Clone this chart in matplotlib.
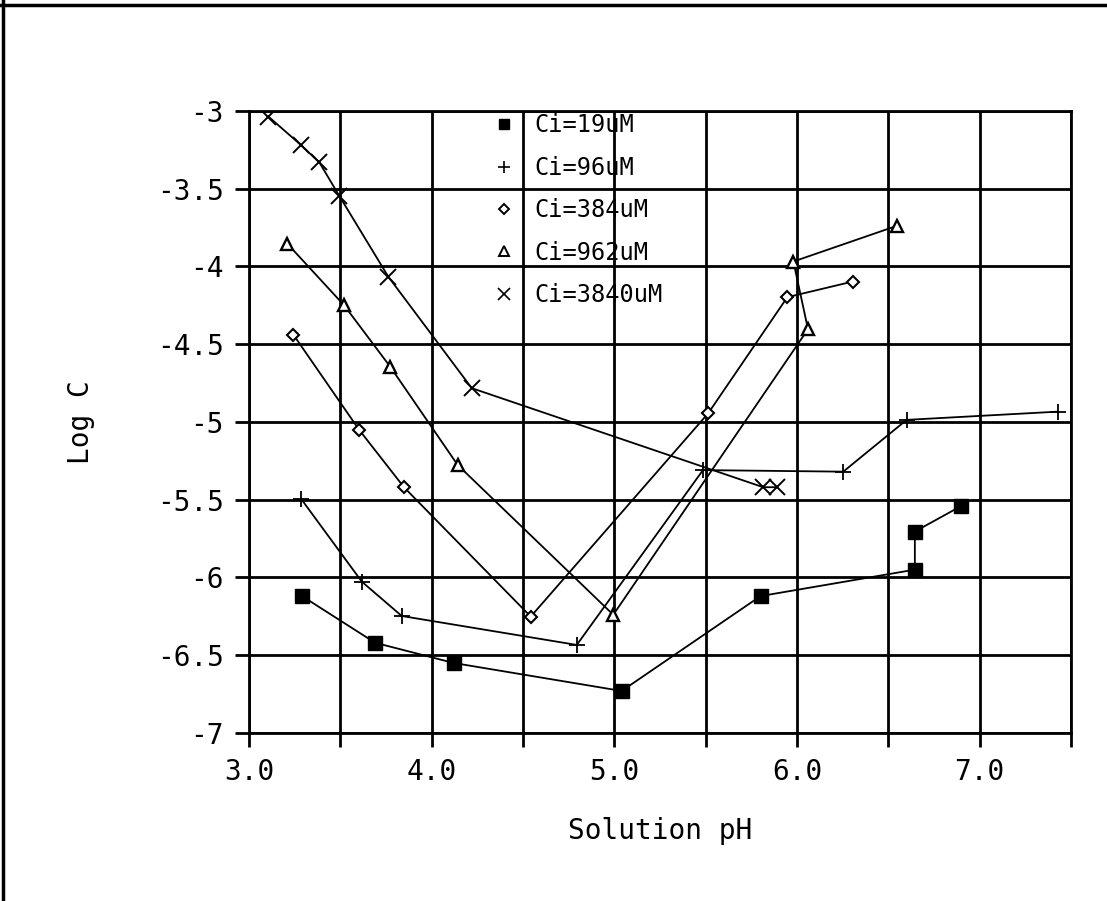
import numpy as np
import matplotlib
matplotlib.use("Agg")
import matplotlib.pyplot as plt
from matplotlib.lines import Line2D

# Ci = 19 uM
ph_19 = [3.29, 3.69, 4.12, 5.04, 5.80, 6.645, 6.645, 6.90]
logc_19 = [-6.12, -6.42, -6.55, -6.73, -6.12, -5.95, -5.705, -5.54]

# Ci = 96 uM
ph_96 = [3.285, 3.617, 3.836, 4.794, 5.485, 6.253, 6.60, 7.43]
logc_96 = [-5.495, -6.027, -6.248, -6.434, -5.31, -5.32, -4.987, -4.934]

# Ci = 384 uM
ph_384 = [3.243, 3.602, 3.848, 4.542, 5.514, 5.947, 6.304]
logc_384 = [-4.44, -5.05, -5.42, -6.252, -4.944, -4.198, -4.098]

# Ci = 962 uM
ph_962 = [3.21, 3.52, 3.772, 4.142, 4.994, 6.06, 5.98, 6.545]
logc_962 = [-3.855, -4.25, -4.644, -5.277, -6.24, -4.404, -3.969, -3.74]

# Ci = 3840 uM
ph_3840 = [3.106, 3.283, 3.385, 3.494, 3.762, 4.219, 5.815, 5.888]
logc_3840 = [-3.037, -3.219, -3.332, -3.547, -4.066, -4.783, -5.42, -5.42]

labels = ["Ci=19uM", "Ci=96uM", "Ci=384uM", "Ci=962uM", "Ci=3840uM"]

x_ticks = np.arange(3.0, 7.51, 0.5)
x_ticklabels = ["3.0", "", "4.0", "", "5.0", "", "6.0", "", "7.0", ""]
y_ticks = np.arange(-7.0, -2.99, 0.5)
y_ticklabels = ["-7", "-6.5", "-6", "-5.5", "-5", "-4.5", "-4", "-3.5", "-3"]

mono = "DejaVu Sans Mono"

fig = plt.figure(figsize=(11.07, 9.01), dpi=100)
ax = fig.add_axes([0.225, 0.1865, 0.7425, 0.6905])

series = [
    (ph_19, logc_19, dict(marker="s", ms=10, mfc="black")),
    (ph_96, logc_96, dict(marker="+", ms=12, mew=1.3)),
    (ph_384, logc_384, dict(marker="D", ms=6.5, mfc="white", mew=1.5)),
    (ph_962, logc_962, dict(marker="^", ms=9, mfc="white", mew=1.7)),
    (ph_3840, logc_3840, dict(marker="x", ms=11, mew=1.4)),
]
for (xs, ys, st), lab in zip(series, labels):
    ax.plot(xs, ys, color="black", lw=1.3, mec="black", label=lab, zorder=3, **st)

ax.set_xlim(3.0, 7.5)
ax.set_ylim(-7.0, -3.0)
ax.set_xticks(x_ticks)
ax.set_xticklabels(x_ticklabels, family=mono, fontsize=20)
ax.set_yticks(y_ticks)
ax.set_yticklabels(y_ticklabels, family=mono, fontsize=20)
ax.tick_params(direction="out", length=10, width=2, pad=8)
ax.grid(True, color="black", lw=2)
for s in ax.spines.values():
    s.set_linewidth(2)

ax.set_xlabel("Solution pH", family=mono, fontsize=20, labelpad=22)
ax.set_ylabel("Log C", family=mono, fontsize=20, labelpad=45)

handles = [Line2D([], [], color="black", ls="none", marker=m, ms=s, mfc=f, mew=w)
           for m, s, f, w in [("s", 7, "black", 1), ("+", 8, "none", 1.2),
                              ("D", 5, "white", 1.4), ("^", 7, "white", 1.4),
                              ("x", 9, "none", 1.2)]]
leg = ax.legend(handles, labels, loc="upper left", bbox_to_anchor=(0.27, 1.03),
                frameon=False, prop={"family": mono, "size": 17},
                handlelength=1.0, handletextpad=0.8, labelspacing=0.78)

# page frame lines at top and left
fig.add_artist(Line2D([0.0, 1.0], [0.995, 0.995], color="black", lw=2.5))
fig.add_artist(Line2D([0.003, 0.003], [0.0, 1.0], color="black", lw=2.5))

fig.savefig("out.png", dpi=100)
